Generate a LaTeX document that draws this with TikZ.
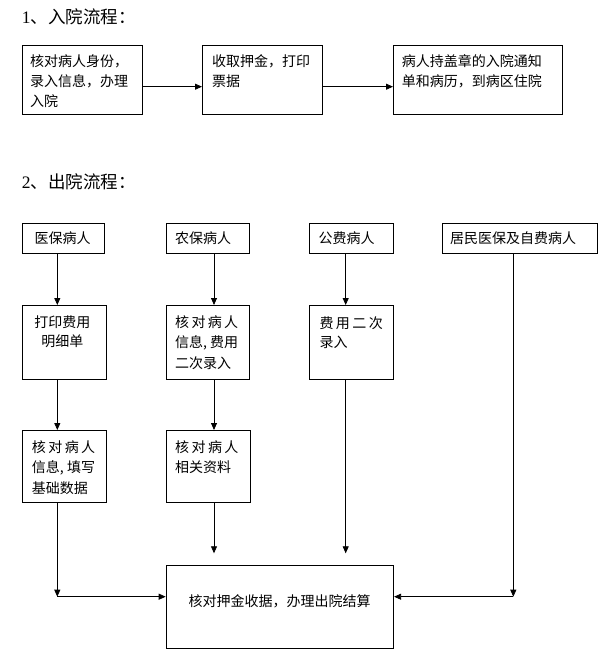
\documentclass[tikz,border=0pt]{standalone}
\usepackage{fontspec}
\setmainfont{Liberation Serif}
\newfontfamily\cjk{Noto Sans CJK SC}
\usetikzlibrary{arrows.meta}
\begin{document}
\begin{tikzpicture}[x=1pt,y=-1pt,
  box/.style={draw, line width=0.8pt, inner sep=0pt, anchor=north west},
  txt/.style={inner sep=0pt, font=\cjk\fontsize{14}{20}\selectfont, text width=180pt, align=left, anchor=base west},
  ctxt/.style={inner sep=0pt, font=\cjk\fontsize{14}{19}\selectfont, text width=80pt, align=center, anchor=base},
  ttl/.style={inner sep=0pt, anchor=base west, font=\fontsize{17.5}{20}\selectfont},
  arr/.style={line width=0.8pt, -{Triangle[length=7pt,width=6pt]}}]
\useasboundingbox[fill=white] (0,0) rectangle (612,663);

% titles
\node[ttl] (h1) at (21.7,23.3) {1\cjk 、入院流程：};
\node[ttl] (h2) at (21.7,188.3) {2\cjk 、出院流程：};

% admission boxes
\node[box, minimum width=120pt, minimum height=69pt] (b1) at (21.7,45) {};
\node[box, minimum width=120pt, minimum height=69pt] (b2) at (202,45) {};
\node[box, minimum width=169pt, minimum height=69pt] (b3) at (393,45) {};
\node[txt] (tb1) at (30,67) {核对病人身份，\\录入信息，办理\\入院};
\node[txt] (tb2) at (211.8,67) {收取押金，打印\\票据};
\node[txt] (tb3) at (401.7,67) {病人持盖章的入院通知\\单和病历，到病区住院};

% discharge boxes
\node[box, minimum width=82.5pt, minimum height=30.6pt] (m1) at (21.7,222.7) {};
\node[box, minimum width=83.6pt, minimum height=30.6pt] (n1) at (165.7,222.7) {};
\node[box, minimum width=84pt, minimum height=30.6pt] (g1) at (309.3,222.7) {};
\node[box, minimum width=155.6pt, minimum height=30.6pt] (j1) at (441.7,222.7) {};
\node[box, minimum width=84.3pt, minimum height=74.3pt] (m2) at (21.7,305) {};
\node[box, minimum width=83.6pt, minimum height=74.3pt] (n2) at (165.7,305) {};
\node[box, minimum width=84pt, minimum height=74.3pt] (g2) at (309.3,305) {};
\node[box, minimum width=84.3pt, minimum height=71.7pt] (m3) at (21.7,430) {};
\node[box, minimum width=84.3pt, minimum height=71.7pt] (n3) at (165.7,430) {};
\node[box, minimum width=227.6pt, minimum height=83.3pt] (fin) at (165.7,565) {};

\node[ctxt] (tm1) at (62.6,243.3) {医保病人};
\node[txt] (tn1) at (175,243.3) {农保病人};
\node[txt] (tg1) at (318.3,243.3) {公费病人};
\node[txt] (tj1) at (450,243.3) {居民医保及自费病人};
\node[ctxt] (tm2) at (62.3,327) {打印费用\\明细单};
\node[txt, font=\cjk\fontsize{14}{20.8}\selectfont] (tn2) at (175,327)
  {\makebox[63pt][l]{核\hfill 对\hfill 病\hfill 人}\\\makebox[63pt][l]{信息,\hfill 费用}\\二次录入};
\node[txt, font=\cjk\fontsize{14}{18.4}\selectfont] (tg2) at (319.3,328.6)
  {\makebox[63.4pt][l]{费\hfill 用\hfill 二\hfill 次}\\录入};
\node[txt, font=\cjk\fontsize{14}{20.8}\selectfont] (tm3) at (31.7,452)
  {\makebox[63.3pt][l]{核\hfill 对\hfill 病\hfill 人}\\\makebox[63.3pt][l]{信息,\hfill 填写}\\基础数据};
\node[txt, font=\cjk\fontsize{14}{20.8}\selectfont] (tn3) at (175,452)
  {\makebox[63.3pt][l]{核\hfill 对\hfill 病\hfill 人}\\相关资料};
\node[inner sep=0pt, font=\cjk\fontsize{14}{20}\selectfont] (tfin) at (279.5,601.7) {核对押金收据，办理出院结算};

% helper coordinates
\coordinate (yin) at (0,86.7);
\coordinate (cxm) at (57.3,0);
\coordinate (cxn) at (214,0);
\coordinate (cxg) at (345.7,0);
\coordinate (cxj) at (513.3,0);
\coordinate (pn) at (214,553.3);
\coordinate (pg) at (345.7,553.3);
\coordinate (lm) at (57.3,596.7);
\coordinate (lj) at (513.3,596.7);

% connectors
\draw[arr] (b1.east |- yin) -- (b2.west |- yin);
\draw[arr] (b2.east |- yin) -- (b3.west |- yin);
\draw[arr] (m1.south -| cxm) -- (m2.north -| cxm);
\draw[arr] (m2.south -| cxm) -- (m3.north -| cxm);
\draw[arr] (m3.south -| cxm) -- (lm);
\draw[arr] (lm) -- (fin.west |- lm);
\draw[arr] (n1.south -| cxn) -- (n2.north -| cxn);
\draw[arr] (n2.south -| cxn) -- (n3.north -| cxn);
\draw[arr] (n3.south -| cxn) -- (pn);
\draw[arr] (g1.south -| cxg) -- (g2.north -| cxg);
\draw[arr] (g2.south -| cxg) -- (pg);
\draw[arr] (j1.south -| cxj) -- (lj);
\draw[arr] (lj) -- (fin.east |- lj);
\end{tikzpicture}
\end{document}
